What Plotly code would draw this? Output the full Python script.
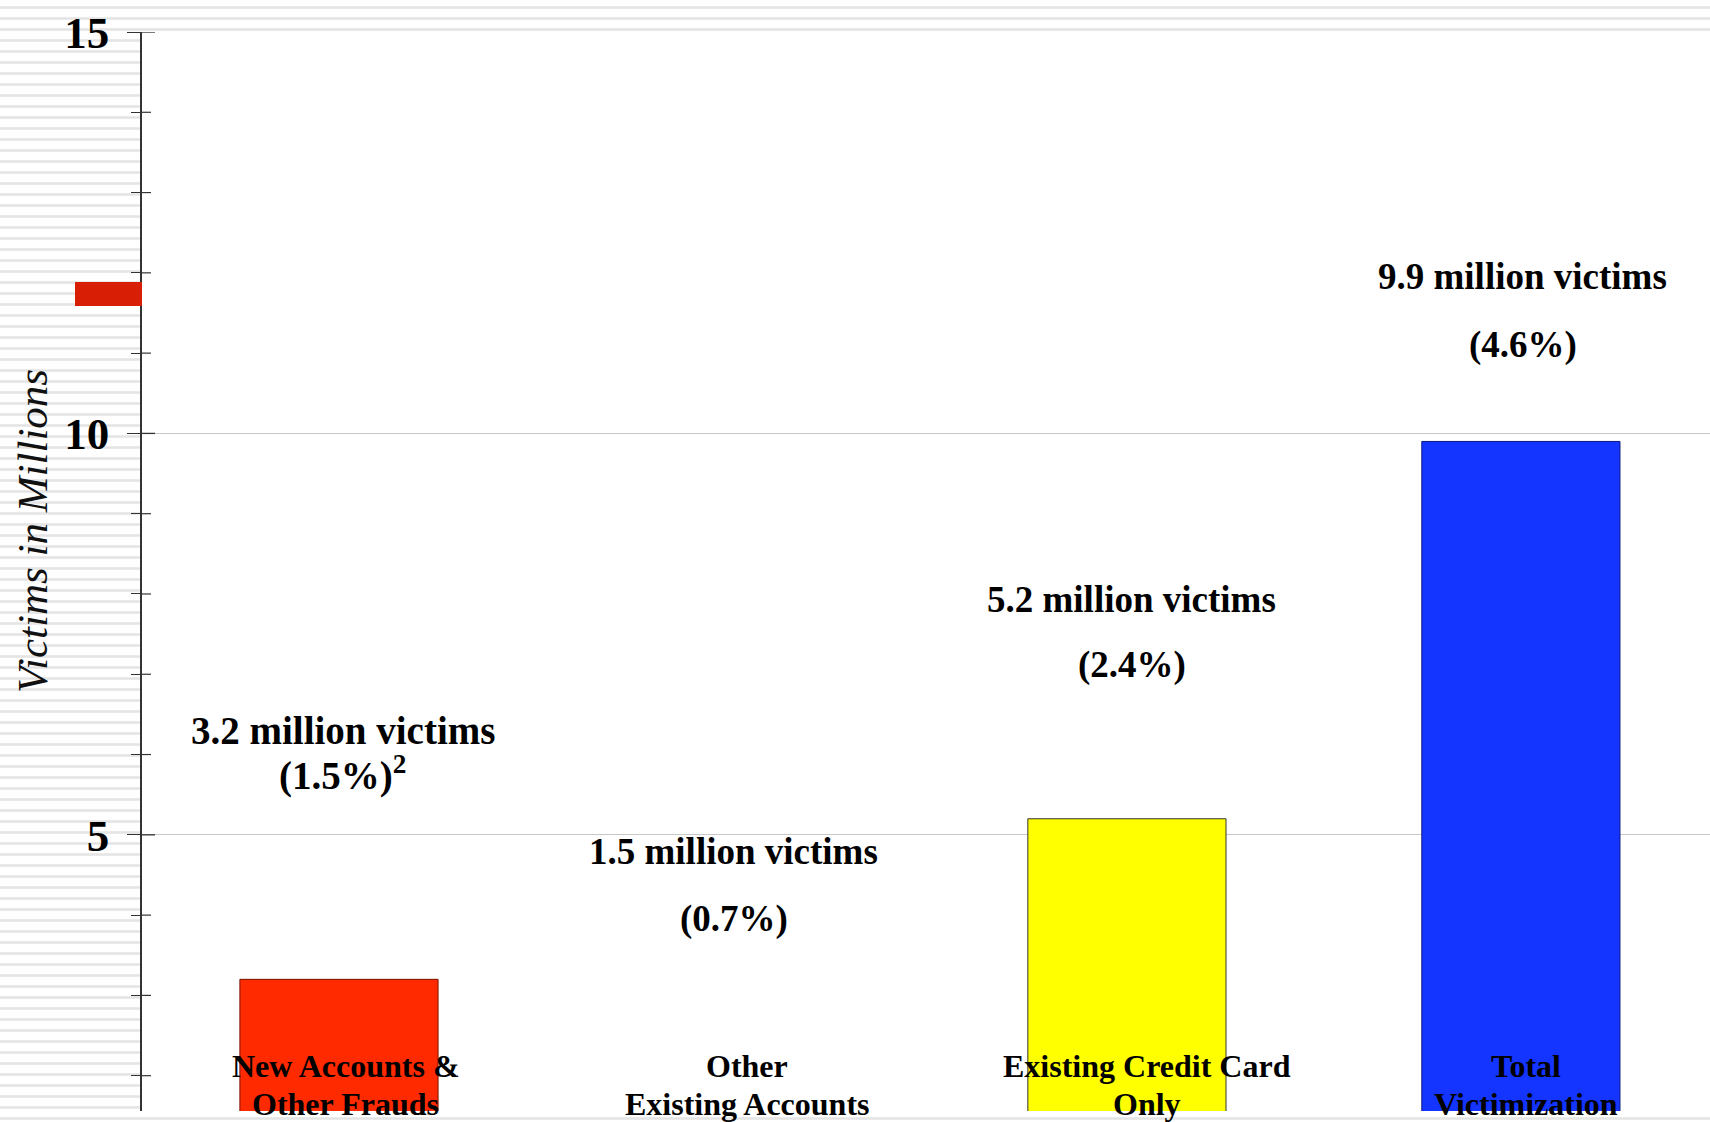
import plotly.graph_objects as go

# Identity theft victims by category (millions)
categories = ["New Accounts & Other Frauds", "Other Existing Accounts",
              "Existing Credit Card Only", "Total Victimization"]
victims = [3.2, 1.5, 5.2, 9.9]
count_labels = ["3.2 million victims", "1.5 million victims",
                "5.2 million victims", "9.9 million victims"]
pct_labels = ["(1.5%)<sup>2</sup>", "(0.7%)", "(2.4%)", "(4.6%)"]
name_line1 = ["New Accounts &", "Other", "Existing Credit Card", "Total"]
name_line2 = ["Other Frauds", "Existing Accounts", "Only", "Victimization"]
bar_colors = ["#FF2A00", "#22AA22", "#FFFF00", "#1434FF"]
edge_colors = ["#7A1000", "#333333", "#333333", "#0A1A80"]
major_ticks = [5, 10, 15]
minor_ticks = [2, 3, 4, 6, 7, 8, 9, 11, 12, 13, 14]

W, H = 1710, 1122
L, T, B = 142, 32, 11
PW, PH = W - L, H - T - B
Y_RANGE = [1.56, 15]
X_RANGE = [-0.5, 3.48]

SERIF = "Liberation Serif, Times New Roman, serif"

fig = go.Figure()
fig.add_trace(go.Bar(
    x=list(range(len(categories))), y=victims,
    width=0.503,
    marker=dict(color=bar_colors, line=dict(color=edge_colors, width=1)),
    hovertext=categories, showlegend=False,
))


def px_x(px):
    return (px - L) / PW


def px_y(py):
    return (H - B - py) / PH


# striped slide background around the plotting area
segs = []
k = 0
while True:
    py = 7.5 + 11 * k
    if py > H + 2:
        break
    x_end = W if (py < T - 1 or py > H - B) else L - 1
    segs.append(f"M {px_x(0):.5f},{px_y(py):.5f} L {px_x(x_end):.5f},{px_y(py):.5f}")
    k += 1
shapes = [dict(type="path", xref="paper", yref="paper", path=" ".join(segs),
               line=dict(color="#e4e4e4", width=2.6), layer="below")]
# red accent block on the left edge
shapes.append(dict(type="rect", xref="paper", yref="paper",
                   x0=px_x(75), x1=px_x(142), y0=px_y(306), y1=px_y(282),
                   fillcolor="#D81E05", line=dict(width=0), layer="above"))
# inner halves of the tick marks, so that the ticks cross the axis line
for v in major_ticks:
    shapes.append(dict(type="line", xref="paper", yref="y", x0=0, x1=px_x(155), y0=v, y1=v,
                       line=dict(color="#333", width=1.3), layer="above"))
for v in minor_ticks:
    shapes.append(dict(type="line", xref="paper", yref="y", x0=0, x1=px_x(151), y0=v, y1=v,
                       line=dict(color="#333", width=1.2), layer="above"))

annotations = []
# value labels above each category
count_y = [6.3, 4.79, 7.93, 11.96]
pct_y = [5.76, 3.95, 7.12, 11.10]
label_dx = [4, 1, 5, 2]
for i in range(len(categories)):
    size = 39 if i == 0 else 37
    annotations.append(dict(x=i, y=count_y[i], xref="x", yref="y", text=f"<b>{count_labels[i]}</b>",
                            showarrow=False, xshift=label_dx[i],
                            xanchor="center", yanchor="middle",
                            font=dict(family=SERIF, size=size, color="#000")))
    annotations.append(dict(x=i, y=pct_y[i], xref="x", yref="y", text=f"<b>{pct_labels[i]}</b>",
                            showarrow=False, xshift=label_dx[i],
                            xanchor="center", yanchor="middle",
                            font=dict(family=SERIF, size=size, color="#000")))

# category names written across the foot of the bars
name_dx = [7, 14, 20, 5]
for i in range(len(categories)):
    annotations.append(dict(x=i, y=2.12, xref="x", yref="y", text=f"<b>{name_line1[i]}</b>",
                            showarrow=False, xshift=name_dx[i],
                            xanchor="center", yanchor="middle",
                            font=dict(family=SERIF, size=32, color="#000")))
    annotations.append(dict(x=i, y=1.65, xref="x", yref="y", text=f"<b>{name_line2[i]}</b>",
                            showarrow=False, xshift=name_dx[i],
                            xanchor="center", yanchor="middle",
                            font=dict(family=SERIF, size=32, color="#000")))

# y-axis title
annotations.append(dict(x=px_x(32), y=px_y(531), xref="paper", yref="paper",
                        xanchor="center", yanchor="middle",
                        text="<i>Victims in Millions</i>", textangle=-90, showarrow=False,
                        font=dict(family=SERIF, size=43, color="#111")))

fig.update_layout(
    width=W, height=H,
    margin=dict(l=L, r=0, t=T, b=B, pad=0),
    paper_bgcolor="white", plot_bgcolor="white",
    bargap=0.5,
    xaxis=dict(range=X_RANGE, showticklabels=False, ticks="", showgrid=False,
               zeroline=False, showline=False, fixedrange=True),
    yaxis=dict(range=Y_RANGE, tick0=0, dtick=5, ticks="outside", ticklen=13,
               tickwidth=1.3, tickcolor="#333",
               minor=dict(dtick=1, ticks="outside", ticklen=9, tickwidth=1.2,
                          tickcolor="#333", showgrid=False),
               showgrid=True, gridcolor="#c8c8c8", gridwidth=1,
               showline=True, linecolor="#333", linewidth=1.5, zeroline=False,
               ticklabelstandoff=9,
               tickfont=dict(family=SERIF, size=45, color="#000", weight="bold")),
    shapes=shapes,
    annotations=annotations,
)

fig.write_html("out.html")
